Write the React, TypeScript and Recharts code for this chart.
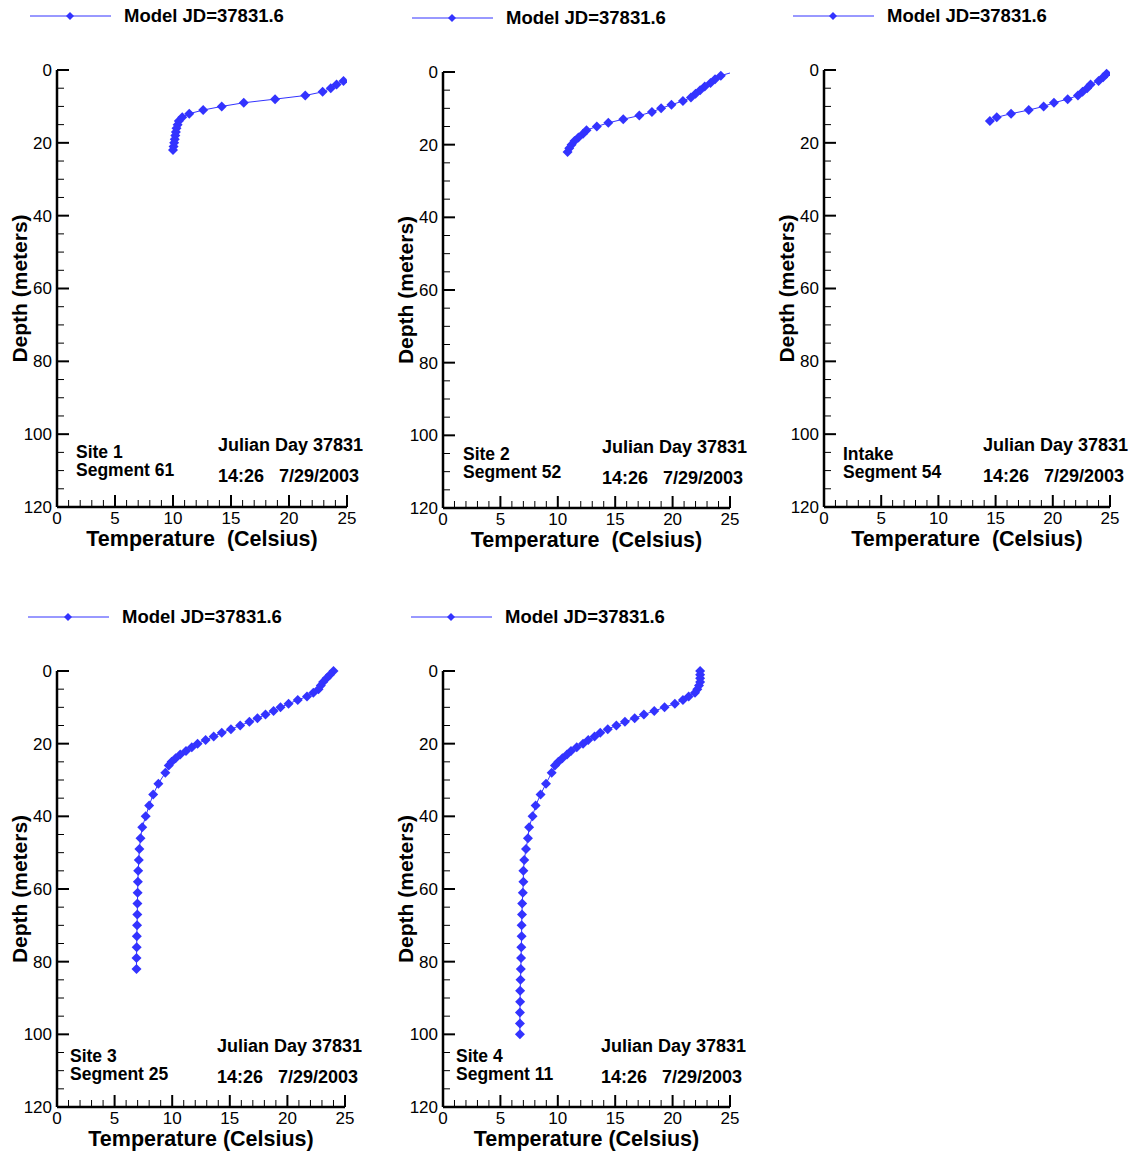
import React from 'react'
import { ScatterChart, Scatter, XAxis, YAxis, Label } from 'recharts'

// depth (m) / temperature (°C) profiles
const site1Depth = [3, 4, 5, 6, 7, 8, 9, 10, 11, 12, 13, 14, 15, 16, 17, 18, 19, 20, 21, 22]
const site1Temp = [24.7, 24.1, 23.6, 22.9, 21.4, 18.8, 16.1, 14.2, 12.6, 11.4, 10.8, 10.5, 10.4, 10.3, 10.25, 10.2, 10.15, 10.1, 10.05, 10.0]

const site2Depth = [0, 1, 2, 3, 4, 5, 6, 7, 8, 9, 10, 11, 12, 13, 14, 15, 16, 17, 18, 19, 20, 21, 22]
const site2Temp = [25.3, 24.2, 23.7, 23.3, 22.8, 22.4, 22.0, 21.6, 20.9, 19.9, 19.0, 18.2, 17.1, 15.7, 14.4, 13.4, 12.5, 12.2, 11.8, 11.45, 11.2, 11.0, 10.85]

const intakeDepth = [1, 2, 3, 4, 5, 6, 7, 8, 9, 10, 11, 12, 13, 14]
const intakeTemp = [24.7, 24.4, 24.0, 23.3, 23.0, 22.6, 22.2, 21.3, 20.1, 19.2, 17.9, 16.35, 15.1, 14.5]

const site3Depth = [0, 1, 2, 3, 4, 5, 6, 7, 8, 9, 10, 11, 12, 13, 14, 15, 16, 17, 18, 19, 20, 21, 22, 23, 24, 25, 26,
  28, 31, 34, 37, 40, 43, 46, 49, 52, 55, 58, 61, 64, 67, 70, 73, 76, 79, 82]
const site3Temp = [24.0, 23.7, 23.4, 23.1, 22.9, 22.7, 22.25, 21.7, 20.9, 20.1, 19.4, 18.8, 18.1, 17.4, 16.7, 15.9, 15.1, 14.3, 13.6, 12.9, 12.2, 11.7, 11.2, 10.7, 10.3, 9.95, 9.7,
  9.4, 8.8, 8.35, 8.0, 7.7, 7.4, 7.25, 7.15, 7.1, 7.05, 7.02, 7.0, 6.98, 6.97, 6.95, 6.93, 6.92, 6.9, 6.9]

const site4Depth = [0, 1, 2, 3, 4, 5, 6, 7, 8, 9, 10, 11, 12, 13, 14, 15, 16, 17, 18, 19, 20, 21, 22, 23, 24, 25, 26,
  28, 31, 34, 37, 40, 43, 46, 49, 52, 55, 58, 61, 64, 67, 70, 73, 76, 79, 82, 85, 88, 91, 94, 97, 100]
const site4Temp = [22.4, 22.4, 22.4, 22.4, 22.3, 22.15, 21.95, 21.4, 20.9, 20.2, 19.3, 18.4, 17.5, 16.7, 15.85, 15.1, 14.35, 13.7, 13.2, 12.65, 12.2, 11.65, 11.15, 10.8, 10.4, 10.05, 9.75,
  9.47, 8.97, 8.5, 8.07, 7.8, 7.5, 7.4, 7.23, 7.08, 7.0, 7.0, 6.95, 6.9, 6.88, 6.85, 6.85, 6.82, 6.8, 6.78, 6.75, 6.72, 6.72, 6.7, 6.7, 6.7]

const tempTicks = [0, 1, 2, 3, 4, 5, 6, 7, 8, 9, 10, 11, 12, 13, 14, 15, 16, 17, 18, 19, 20, 21, 22, 23, 24, 25]
const depthTicks = [0, 5, 10, 15, 20, 25, 30, 35, 40, 45, 50, 55, 60, 65, 70, 75, 80, 85, 90, 95, 100, 105, 110, 115, 120]
const tempLabels = [0, 5, 10, 15, 20, 25]
const depthLabels = [0, 20, 40, 60, 80, 100, 120]

const legendText = 'Model JD=37831.6'
const julian = 'Julian Day 37831'
const stamp = '14:26\u00a0\u00a0 7/29/2003'

const BLUE = '#3333ff'
const FONT = '"Liberation Sans", Arial, Helvetica, sans-serif'

const toRows = (depth: number[], temp: number[]) => depth.map((d, i) => ({ d, t: temp[i] }))

const panels = [
  { rows: toRows(site1Depth, site1Temp), plot: [57, 70, 347, 507], site: 'Site 1', seg: 'Segment 61', xTitle: 'Temperature\u00a0\u00a0(Celsius)',
    legend: [30, 16], siteAt: [76, 443], julAt: [218, 436] },
  { rows: toRows(site2Depth, site2Temp), plot: [443, 72, 730, 508], site: 'Site 2', seg: 'Segment 52', xTitle: 'Temperature\u00a0\u00a0(Celsius)',
    legend: [412, 18], siteAt: [463, 445], julAt: [602, 438] },
  { rows: toRows(intakeDepth, intakeTemp), plot: [824, 70, 1110, 507], site: 'Intake', seg: 'Segment 54', xTitle: 'Temperature\u00a0\u00a0(Celsius)',
    legend: [793, 16], siteAt: [843, 445], julAt: [983, 436] },
  { rows: toRows(site3Depth, site3Temp), plot: [57, 671, 345, 1107], site: 'Site 3', seg: 'Segment 25', xTitle: 'Temperature (Celsius)',
    legend: [28, 617], siteAt: [70, 1047], julAt: [217, 1037] },
  { rows: toRows(site4Depth, site4Temp), plot: [443, 671, 730, 1107], site: 'Site 4', seg: 'Segment 11', xTitle: 'Temperature (Celsius)',
    legend: [411, 617], siteAt: [456, 1047], julAt: [601, 1037] },
]

function Diamond(props: any) {
  const { cx, cy, payload } = props
  if (cx == null || cy == null || (payload && payload.t > 25)) return null
  const r = 5
  return <path d={`M${cx},${cy - r}L${cx + r},${cy}L${cx},${cy + r}L${cx - r},${cy}Z`} fill={BLUE} />
}

function TempTick(props: any) {
  const { x, y, payload } = props
  const major = tempLabels.includes(payload.value)
  return (
    <g>
      <line x1={x} y1={y} x2={x} y2={y - (major ? 12 : 7)} stroke="#000" strokeWidth={major ? 2 : 1} />
      {major && (
        <text x={x} y={y + 17} textAnchor="middle" fontSize={17} fontFamily={FONT} fill="#000">{payload.value}</text>
      )}
    </g>
  )
}

function DepthTick(props: any) {
  const { x, y, payload } = props
  const major = depthLabels.includes(payload.value)
  return (
    <g>
      <line x1={x} y1={y} x2={x + (major ? 12 : 7)} y2={y} stroke="#000" strokeWidth={major ? 2 : 1} />
      {major && (
        <text x={x - 5} y={y} dy="0.35em" textAnchor="end" fontSize={17} fontFamily={FONT} fill="#000">{payload.value}</text>
      )}
    </g>
  )
}

function Panel({ p }: { p: typeof panels[number] }) {
  const [l, t, r, b] = p.plot
  const W = 380
  const H = 560
  const axisW = 57
  const axisH = 53
  const ox = l - axisW
  const oy = t - 70
  return (
    <div style={{ position: 'absolute', left: ox, top: oy, width: W, height: H }}>
      <ScatterChart width={W} height={H} margin={{ top: 70, left: 0, right: W - axisW - (r - l), bottom: H - 70 - (b - t) - axisH }}>
        <XAxis type="number" dataKey="t" domain={[0, 25]} allowDataOverflow ticks={tempTicks} interval={0}
          height={axisH} tickSize={0} tickMargin={0} tickLine={false} tick={<TempTick />}
          axisLine={{ stroke: '#000', strokeWidth: 2.5 }}>
          <Label content={({ viewBox }: any) => (
            <text x={viewBox.x + viewBox.width / 2} y={viewBox.y + 39} textAnchor="middle" fontSize={21.5}
              fontWeight="bold" fontFamily={FONT} fill="#000">{p.xTitle}</text>
          )} />
        </XAxis>
        <YAxis type="number" dataKey="d" domain={[0, 120]} reversed ticks={depthTicks} interval={0}
          width={axisW} tickSize={0} tickMargin={0} tickLine={false} tick={<DepthTick />}
          axisLine={{ stroke: '#000', strokeWidth: 2.5 }}>
          <Label content={({ viewBox }: any) => {
            const cx = viewBox.x + viewBox.width - 38
            const cy = viewBox.y + viewBox.height / 2
            return (
              <text x={cx} y={cy} transform={`rotate(-90 ${cx} ${cy})`} textAnchor="middle" dominantBaseline="central"
                fontSize={21} fontWeight="bold" fontFamily={FONT} fill="#000">Depth (meters)</text>
            )
          }} />
        </YAxis>
        <Scatter data={p.rows} line={{ stroke: BLUE, strokeWidth: 1 }} lineType="joint" shape={<Diamond />}
          fill={BLUE} isAnimationActive={false} />
      </ScatterChart>
    </div>
  )
}

const textStyle: React.CSSProperties = { position: 'absolute', fontFamily: FONT, fontWeight: 'bold', color: '#000', whiteSpace: 'pre', lineHeight: 1 }

export default function App() {
  return (
    <div style={{ position: 'absolute', left: 0, top: 0, width: 1134, height: 1154, background: '#fff' }}>
      {panels.map((p, i) => (
        <React.Fragment key={i}>
          <Panel p={p} />
          <svg style={{ position: 'absolute', left: p.legend[0], top: p.legend[1] - 6 }} width={82} height={12}>
            <line x1={0} y1={6} x2={81} y2={6} stroke={BLUE} strokeWidth={1} />
            <path d="M40,2L44,6L40,10L36,6Z" fill={BLUE} />
          </svg>
          <div style={{ ...textStyle, left: p.legend[0] + 94, top: p.legend[1] - 9, fontSize: 18.5 }}>{legendText}</div>
          <div style={{ ...textStyle, left: p.siteAt[0], top: p.siteAt[1], fontSize: 17.5, lineHeight: '18px' }}>
            {p.site}{'\n'}{p.seg}
          </div>
          <div style={{ ...textStyle, left: p.julAt[0], top: p.julAt[1], fontSize: 18 }}>{julian}</div>
          <div style={{ ...textStyle, left: p.julAt[0], top: p.julAt[1] + 31, fontSize: 18 }}>{stamp}</div>
        </React.Fragment>
      ))}
    </div>
  )
}
